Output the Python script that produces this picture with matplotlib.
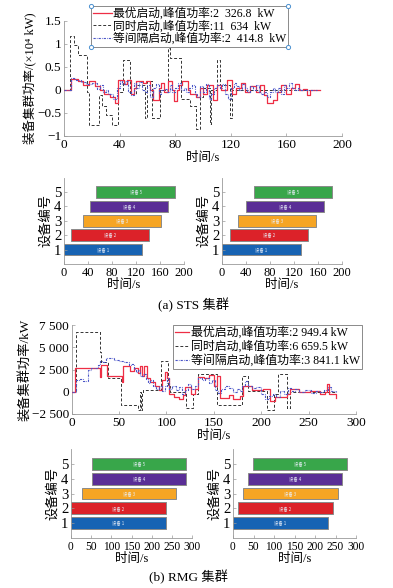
import matplotlib
matplotlib.use("Agg")
import matplotlib.pyplot as plt
from matplotlib.lines import Line2D

plt.rcParams['font.family'] = ['Liberation Serif', 'Noto Sans CJK SC', 'DejaVu Sans']
plt.rcParams['axes.unicode_minus'] = True

# ---- (a) STS cluster power, x10^4 kW ----
sts_sim_t = [0, 4.3, 7.2, 10.3, 16.8, 18.3, 25.5, 27, 30, 34.5, 38.5, 42.5, 47.5, 52, 58, 59.5,
             63.5, 69, 74.5, 76, 84.5, 90.5, 95, 97.8, 100, 104.8, 106, 109.8, 112, 119.4, 120.8, 184]
sts_sim_p = [0, 1.16, 0.97, 0.76, -0.05, -0.77, -0.12, -0.35, -0.55, -0.77, -0.05, 0.65, -0.1, 0.1, -0.6, 0.2,
             -0.6, 0.0, 0.9, 0.7, -0.2, -0.35, -0.85, -0.15, 0.05, -0.75, 0.0, 0.65, 0.1, -0.6, 0.0, 0.0]

sts_opt_t = [0, 5, 10, 14, 18, 22, 26, 29, 33, 36.5, 39, 43, 45, 48, 50, 52, 57, 59, 62, 64,
             68, 70, 72, 75, 77.5, 79, 81, 83, 85, 89, 91, 95, 98, 100, 103, 107, 110, 113, 117, 121,
             124, 127, 130, 134, 138, 141, 144, 146, 150, 153, 156, 160, 163, 166, 169, 172, 175, 177, 184]
sts_opt_p = [0, 0.23, 0.2, 0.1, 0.2, 0.08, 0.0, -0.08, -0.15, -0.28, 0.22, 0.12, 0.22, -0.08, 0.05, 0.2, 0.15, 0.2, 0.0, -0.22,
             0.05, 0.15, -0.05, 0.2, 0.0, -0.25, 0.0, 0.1, 0.2, 0.0, -0.1, -0.15, 0.05, -0.1, 0.1, -0.22, 0.1, 0.0, 0.22, -0.08,
             0.05, 0.15, -0.05, 0.08, -0.05, 0.1, -0.12, -0.28, -0.22, -0.05, 0.1, -0.08, 0.05, 0.12, 0.0, 0.02, -0.12, 0.0, 0.0]

sts_eq_t = [0, 5, 8, 12, 16, 20, 24, 26, 28, 30, 32, 35, 38, 40, 42, 44, 46, 48, 50, 52,
            54, 56, 58, 60, 62, 64, 66, 68, 70, 72, 74, 76, 78, 80, 82, 84, 86, 88, 90, 92,
            94, 96, 98, 100, 102, 104, 106, 108, 110, 112, 114, 116, 118, 120, 122, 124, 126, 128, 130, 132,
            134, 136, 138, 140, 142, 144, 146, 148, 150, 152, 154, 156, 158, 160, 162, 164, 166, 168, 170, 182]
sts_eq_p = [0, 0.25, 0.22, 0.17, 0.12, 0.15, 0.02, 0.1, -0.05, 0.0, -0.1, -0.2, 0.05, 0.2, 0.12, 0.2, -0.05, -0.12, 0.15, 0.05,
            0.18, 0.0, -0.05, 0.1, -0.15, 0.05, 0.12, -0.08, 0.0, 0.02, -0.05, 0.1, -0.05, 0.05, 0.15, 0.0, 0.05, -0.05, 0.05, 0.1,
            -0.1, -0.15, 0.08, -0.05, 0.12, -0.2, -0.1, 0.05, 0.1, 0.05, 0.12, -0.1, -0.2, 0.05, 0.15, 0.08, 0.0, 0.12, 0.05, -0.05,
            0.08, 0.0, 0.1, -0.05, -0.1, -0.05, -0.15, -0.05, 0.05, -0.05, 0.05, -0.1, 0.1, 0.05, 0.15, 0.05, 0.0, 0.05, 0.0, 0.0]

sts_labels = ['最优启动,峰值功率:2  326.8  kW', '同时启动,峰值功率:11  634  kW', '等间隔启动,峰值功率:2  414.8  kW']

# ---- (b) RMG cluster power, kW ----
rmg_sim_t = [0, 4.5, 29.5, 31, 38, 52.5, 70, 72, 73, 74, 75.5, 94.5, 101.7, 104, 121, 128, 133, 153, 179.5, 186.5,
             206, 213, 218, 227, 230, 279]
rmg_sim_p = [0, 6660, 4500, 3300, 1500, -1500, -2100, 0, -2100, 0, 200, 3400, 600, 0, -1800, -300, 2000, -1500, 1750, 100,
             -2100, -300, 2050, -1800, 0, 0]

rmg_opt_t = [0, 3.2, 29.5, 31, 37.5, 53, 54.5, 62, 66, 70, 72, 74, 76, 79, 83, 88, 92, 95, 98, 101,
             103, 108, 113, 117, 120, 126, 130, 133, 140, 145, 150, 153, 156.5, 166, 170, 177.6, 181, 190, 202, 209,
             215, 227, 230, 240, 251, 262, 267, 269, 271, 277, 279]
rmg_opt_p = [0, 2650, 1700, 2950, 1800, 1100, 2850, 2300, 2700, 2100, 2900, 1800, 2900, 1500, 1100, 600, 200, 1300, 2200, 1600,
             -300, -600, -800, -400, 500, -300, 300, 1700, 1500, 1900, 700, 1800, -700, -400, -800, -500, 600, 250, 300, -1000,
             -600, -300, 300, 0, 100, -300, 0, 850, -200, -200, -700]

rmg_eq_t = [0, 5, 8, 12, 17.5, 20, 28, 30, 33, 36, 45, 50, 55, 60, 63, 66, 68, 70, 72, 75,
            78, 80, 83, 86, 89, 92, 95, 98, 101, 103, 106, 110, 113, 116, 120, 123, 126, 130, 133, 137,
            141, 145, 148, 151, 154, 158, 162, 166, 170, 174, 178, 180, 183, 186, 190, 195, 200, 204, 208, 212,
            216, 220, 224, 228, 232, 236, 240, 246, 252, 258, 262, 266, 270, 274, 279]
rmg_eq_p = [0, 1300, 1400, 1200, 2400, 2650, 3000, 3500, 3300, 3840, 3600, 3500, 3300, 3000, 3100, 2600, 2200, 2500, 1800, 2000,
            1400, 1000, 1300, 700, 300, 600, 100, 600, 1500, 300, 600, 200, 500, -200, 200, 900, 300, 700, 1500, 1300,
            1600, 1000, 1300, 200, -100, 300, 600, 400, 0, 300, 100, 600, 1200, 700, 400, 500, -300, -800, -500, -300,
            -600, 100, -200, 400, 100, 300, 0, 200, -100, 100, 0, 200, 500, 100, 0]

rmg_labels = ['最优启动,峰值功率:2 949.4 kW', '同时启动,峰值功率:6 659.5 kW', '等间隔启动,峰值功率:3 841.1 kW']

# ---- Gantt charts: device start / end times (s) ----
devices = [1, 2, 3, 4, 5]
dev_names = ['设备 1', '设备 2', '设备 3', '设备 4', '设备 5']
sts_left_start = [0, 11.6, 31, 43, 54]
sts_left_end = [130, 142, 162, 174, 185]
sts_right_start = [0, 12.8, 26.7, 39.5, 53]
sts_right_end = [131, 143.7, 156.5, 170, 183]
rmg_left_start = [0, 0, 27, 51, 51]
rmg_left_end = [235, 235, 261, 286, 286]
rmg_right_start = [0, 12, 24, 37, 49]
rmg_right_end = [231, 243, 255, 267, 279]

dev_colors = ['#1763b3', '#dc2229', '#f6a524', '#5a2e96', '#38a64a']
c_opt = '#ee2e45'
c_sim = '#333333'
c_eq = '#4a55c8'
spine_c = '#9a9a9a'

fig = plt.figure(figsize=(3.93, 5.88), dpi=100)
W, H = 393.0, 588.0


def add_ax(l, r, t, b):
    return fig.add_axes([l / W, 1 - b / H, (r - l) / W, (b - t) / H])


def style(ax, fs_x, fs_y):
    for s in ['top', 'right']:
        ax.spines[s].set_visible(False)
    for s in ['left', 'bottom']:
        ax.spines[s].set_color(spine_c)
        ax.spines[s].set_linewidth(0.6)
    ax.tick_params(direction='in', length=2.5, width=0.5, color=spine_c, pad=2)
    ax.tick_params(axis='x', labelsize=fs_x)
    ax.tick_params(axis='y', labelsize=fs_y)


def power_plot(ax, sets, labels, legend_anchor, fs_leg, spacing, hlen):
    t1, p1, t2, p2, t3, p3 = sets
    ax.step(t1, p1, where='post', color=c_opt, lw=0.9, label=labels[0], zorder=3)
    ax.step(t2, p2, where='post', color=c_sim, lw=0.7, ls=(0, (3, 2)), label=labels[1], zorder=2)
    ax.step(t3, p3, where='post', color=c_eq, lw=0.8, ls=(0, (2, 1, 0.6, 1)), label=labels[2], zorder=4)
    leg = ax.legend(loc='upper left', bbox_to_anchor=legend_anchor, borderaxespad=0,
                    fontsize=fs_leg, handlelength=hlen, handletextpad=0.15, labelspacing=spacing,
                    borderpad=0.15, frameon=True, fancybox=False, framealpha=1)
    leg.get_frame().set_edgecolor('#777777')
    leg.get_frame().set_linewidth(0.6)
    return leg


def gantt(ax, starts, ends, xmax, xticks, fs_x):
    widths = [e - s for s, e in zip(starts, ends)]
    ax.barh(devices, widths, left=starts, height=0.8, color=dev_colors, edgecolor='#8a8a8a', linewidth=0.7)
    for d, s, w, name in zip(devices, starts, widths, dev_names):
        ax.text(s + w / 2, d, name, color='#e8eef8', fontsize=3.2, ha='center', va='center',
                family=['Noto Sans CJK SC'])
    ax.set_xlim(0, xmax)
    ax.set_ylim(0, 6)
    ax.set_xticks(xticks)
    ax.set_yticks(devices)
    style(ax, fs_x, 10.5)
    ax.set_xlabel('时间/s', fontsize=9, labelpad=0)
    ax.set_ylabel('设备编号', fontsize=9.5, labelpad=1)


# (a) power
ax1 = add_ax(64, 342, 20.7, 136)
leg1 = power_plot(ax1, (sts_opt_t, sts_opt_p, sts_sim_t, sts_sim_p, sts_eq_t, sts_eq_p),
                  sts_labels, (0.097, 1.128), 8.5, 0.0, 1.6)
ax1.set_xlim(0, 200)
ax1.set_ylim(-1, 1.5)
ax1.set_xticks([0, 40, 80, 120, 160, 200])
ax1.set_yticks([-1, -0.5, 0, 0.5, 1, 1.5])
ax1.set_yticklabels(['−1', '−0.5', '0', '0.5', '1', '1.5'])
style(ax1, 9.5, 9.5)
ax1.set_xlabel('时间/s', fontsize=9, labelpad=1)
ax1.set_ylabel('装备集群功率/(×10⁴ kW)', fontsize=9, labelpad=1)

# (a) gantt
g1 = add_ax(64, 184, 177.5, 264)
gantt(g1, sts_left_start, sts_left_end, 200, [0, 40, 80, 120, 160, 200], 9)
g2 = add_ax(222, 342, 177.5, 264)
gantt(g2, sts_right_start, sts_right_end, 200, [0, 40, 80, 120, 160, 200], 9)
fig.text(193 / W, 1 - 305 / H, '(a) STS 集群', fontsize=9.5, ha='center', va='center')

# (b) power
ax2 = add_ax(71.7, 356, 325, 414)
leg2 = power_plot(ax2, (rmg_opt_t, rmg_opt_p, rmg_sim_t, rmg_sim_p, rmg_eq_t, rmg_eq_p),
                  rmg_labels, (0.357, 1.0), 8.6, 0.1, 1.2)
ax2.set_xlim(0, 300)
ax2.set_ylim(-2500, 7500)
ax2.set_xticks([0, 50, 100, 150, 200, 250, 300])
ax2.set_yticks([-2500, 0, 2500, 5000, 7500])
ax2.set_yticklabels(['−2 500', '0', '2 500', '5 000', '7 500'])
style(ax2, 9.5, 9.5)
ax2.set_xlabel('时间/s', fontsize=9, labelpad=1)
ax2.set_ylabel('装备集群功率/kW', fontsize=9.5, labelpad=0)

# (b) gantt
g3 = add_ax(71, 192, 449.3, 537.8)
gantt(g3, rmg_left_start, rmg_left_end, 300, [0, 50, 100, 150, 200, 250, 300], 8.3)
g4 = add_ax(233, 356, 449.3, 537.8)
gantt(g4, rmg_right_start, rmg_right_end, 300, [0, 50, 100, 150, 200, 250, 300], 8.3)
fig.text(188 / W, 1 - 577 / H, '(b) RMG 集群', fontsize=9.5, ha='center', va='center')

# selection handles on the top legend corners
fig.canvas.draw()
bb = leg1.get_window_extent().transformed(fig.transFigure.inverted())
hx = [bb.x0, bb.x1, bb.x0, bb.x1]
hy = [bb.y1, bb.y1, bb.y0, bb.y0]
fig.add_artist(Line2D(hx, hy, ls='none', marker='o', ms=3, mfc='white', mec='#4a90d0', mew=0.7,
                      transform=fig.transFigure))

fig.savefig('out.png', dpi=100)
